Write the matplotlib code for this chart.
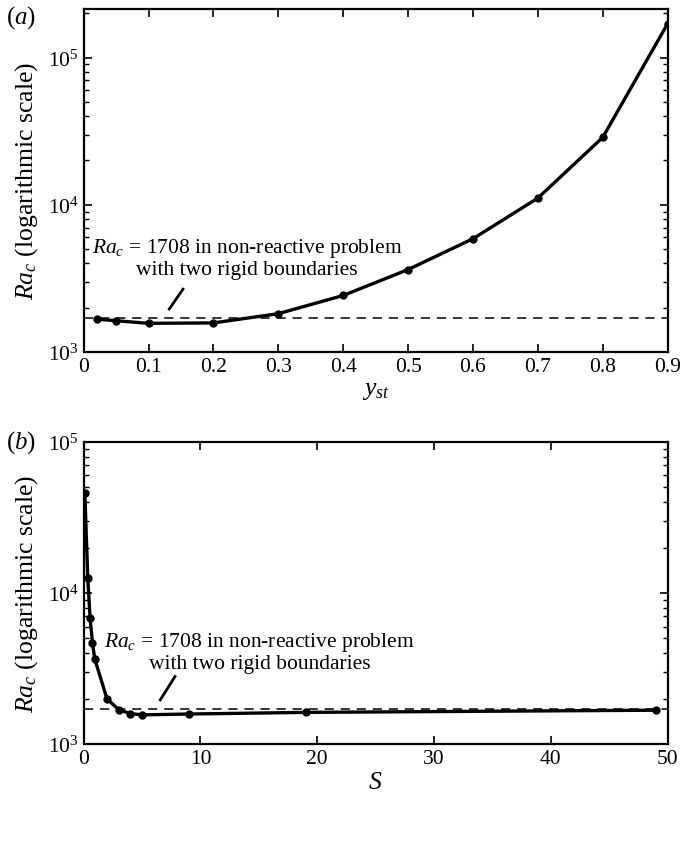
import matplotlib
matplotlib.use("Agg")
import matplotlib.pyplot as plt
from matplotlib.ticker import FuncFormatter, LogLocator

plt.rcParams.update({"font.size": 15.5})
plt.rcParams["font.family"] = "Liberation Serif"
plt.rcParams["mathtext.fontset"] = "custom"
plt.rcParams["mathtext.rm"] = "Liberation Serif"
plt.rcParams["mathtext.it"] = "Liberation Serif:italic"

# panel (a): critical Rayleigh number vs stoichiometric mixture fraction
y_st = [0.02, 0.05, 0.1, 0.2, 0.3, 0.4, 0.5, 0.6, 0.7, 0.8, 0.9]
ra_a = [1670, 1630, 1565, 1575, 1820, 2420, 3630, 5880, 11100, 28700, 170000]

# panel (b): critical Rayleigh number vs S
s_vals = [0.1, 0.35, 0.55, 0.75, 0.95, 2, 3, 4, 5, 9, 19, 49]
ra_b = [46000, 12600, 6800, 4700, 3650, 1990, 1690, 1590, 1560, 1580, 1620, 1675]

RA_REF = 1708
note = "$Ra_c$ = 1708 in non-reactive problem\nwith two rigid boundaries"

fig = plt.figure(figsize=(6.83, 8.54), dpi=100)
ax1 = fig.add_axes([0.1225, 0.5867, 0.855, 0.402])
ax2 = fig.add_axes([0.1225, 0.1276, 0.855, 0.3537])


def style(ax):
    ax.set_yscale("log")
    ax.yaxis.set_minor_locator(LogLocator(base=10, subs=range(2, 10)))
    ax.tick_params(which="both", direction="in", top=True, right=True)
    ax.tick_params(which="major", length=6, width=1.2)
    ax.tick_params(which="minor", length=3.5, width=1)
    for sp in ax.spines.values():
        sp.set_linewidth(1.6)
    ax.set_ylabel("$Ra_c$ (logarithmic scale)", fontsize=18.5, labelpad=6)


fmt = FuncFormatter(lambda v, p: f"{v:g}")

# (a)
ax1.axhline(RA_REF, color="k", lw=1.1, dashes=(6, 4.5))
ax1.plot(y_st, ra_a, "k-", lw=2.4, marker="o", ms=5)
style(ax1)
ax1.set_xlim(0, 0.9)
ax1.set_ylim(1e3, 2.15e5)
ax1.set_xticks([i / 10 for i in range(10)])
ax1.xaxis.set_major_formatter(fmt)
ax1.set_xlabel("$y_{st}$", fontsize=18.5, labelpad=2)
ax1.text(0.252, 4400, note, ha="center", va="center", linespacing=1.05)
ax1.plot([0.132, 0.153], [1960, 2670], "k-", lw=2)
fig.text(0.009, 0.98, "($a$)", fontsize=18, va="center")

# (b)
ax2.axhline(RA_REF, color="k", lw=1.1, dashes=(6, 4.5))
ax2.plot(s_vals, ra_b, "k-", lw=2.4, marker="o", ms=5)
style(ax2)
ax2.set_xlim(0, 50)
ax2.set_ylim(1e3, 1e5)
ax2.set_xticks(range(0, 51, 10))
ax2.xaxis.set_major_formatter(fmt)
ax2.set_xlabel("$S$", fontsize=18.5, labelpad=2)
ax2.text(15.05, 4080, note, ha="center", va="center", linespacing=1.05)
ax2.plot([6.56, 7.82], [1960, 2800], "k-", lw=2)
fig.text(0.009, 0.482, "($b$)", fontsize=18, va="center")

fig.savefig("out.png", dpi=100)
